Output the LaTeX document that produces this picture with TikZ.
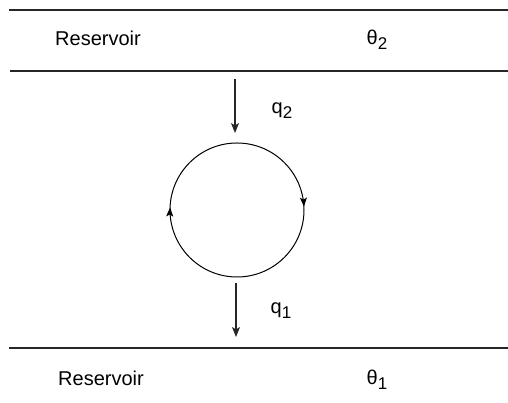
\documentclass[tikz,border=0pt]{standalone}
\usepackage{fontspec}
\setmainfont{Liberation Sans}
\usetikzlibrary{arrows.meta,decorations.markings}
\newcommand{\subtxt}[1]{\raisebox{-5pt}{\fontsize{17}{17}\selectfont #1}}
\begin{document}
\begin{tikzpicture}[x=1pt,y=1pt,
  line/.style={line width=1.1pt, draw=black!85},
  flow/.style={line width=1.1pt, draw=black!85, -{Stealth[length=10pt,width=8pt,inset=2.5pt]}},
  lbl/.style={font=\fontsize{20}{24}\selectfont, inner sep=0pt, anchor=base},
  cyc/.style={line width=1pt, postaction=decorate, decoration={markings,
     mark=at position 0.242 with {\arrow{Stealth[length=9pt,width=7pt,inset=2pt]}},
     mark=at position 0.756 with {\arrow{Stealth[length=9pt,width=7pt,inset=2pt]}}}}]
\useasboundingbox (0,0) rectangle (508,403);
% reservoir lines
\coordinate (t1) at (9,393); \coordinate (t2) at (508,393);
\coordinate (m1) at (10,332); \coordinate (m2) at (508,332);
\coordinate (b1) at (9,55); \coordinate (b2) at (508,55);
\draw[line] (t1) -- (t2);
\draw[line] (m1) -- (m2);
\draw[line] (b1) -- (b2);
% labels
\node[lbl] (r2) at (98,357) {Reservoir};
\node[lbl] (th2) at (377,358) {θ\subtxt{2}};
\node[lbl] (r1) at (101,17) {Reservoir};
\node[lbl] (th1) at (377,18) {θ\subtxt{1}};
\node[lbl] (q2) at (282,289) {q\subtxt{2}};
\node[lbl] (q1) at (281,89) {q\subtxt{1}};
% cycle
\coordinate (c) at (237,193);
\draw[cyc] (c) ++(90:67) arc[start angle=90, end angle=-270, radius=67];
% flows
\coordinate (a1) at (235,324); \coordinate (a2) at (235,270);
\coordinate (d1) at (236,120); \coordinate (d2) at (236,66);
\draw[flow] (a1) -- (a2);
\draw[flow] (d1) -- (d2);
\end{tikzpicture}
\end{document}
